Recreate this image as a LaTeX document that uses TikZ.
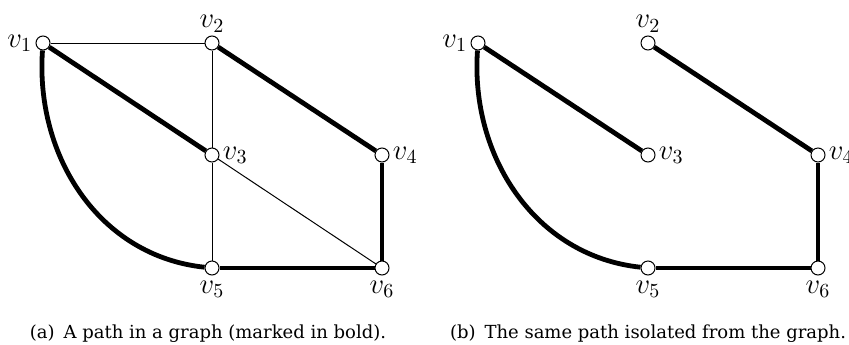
\documentclass[tikz,border=0pt]{standalone}
\usepackage{fontspec}
\newfontfamily\capfont{DejaVu Serif}
\usetikzlibrary{positioning}

\begin{document}
\begin{tikzpicture}[x=0.5pt,y=0.5pt,
  vertex/.style={draw,circle,fill=white,minimum size=7pt,inner sep=0pt,line width=0.5pt},
  vlabel/.style={font=\Large,inner sep=0.5pt,label distance=1pt},
  thinedge/.style={line width=0.5pt},
  boldedge/.style={line width=2.4pt},
  caption/.style={font=\capfont\fontsize{9}{11}\selectfont,inner sep=0pt}
]
  \useasboundingbox (0,0) rectangle (849,344);

  % (a) the whole graph
  \node[vertex,label={[vlabel]left:$v_1$}]  (a1) at (43,301) {};
  \node[vertex,label={[vlabel]above:$v_2$}] (a2) at (212,301) {};
  \node[vertex,label={[vlabel]right:$v_3$}] (a3) at (212,189) {};
  \node[vertex,label={[vlabel]right:$v_4$}] (a4) at (382,189) {};
  \node[vertex,label={[vlabel,label distance=2pt]below:$v_5$}] (a5) at (212,76) {};
  \node[vertex,label={[vlabel,label distance=2pt]below:$v_6$}] (a6) at (382,76) {};

  \path[thinedge]
    (a1) edge (a2)
    (a2) edge (a3)
    (a3) edge (a5)
    (a3) edge (a6);
  \path[boldedge]
    (a1) edge (a3)
    (a2) edge (a4)
    (a4) edge (a6)
    (a5) edge (a6)
    (a1) edge[out=-94,in=174] (a5);

  % (b) the path alone
  \node[vertex,label={[vlabel]left:$v_1$}]  (b1) at (478,301) {};
  \node[vertex,label={[vlabel]above:$v_2$}] (b2) at (648,301) {};
  \node[vertex,label={[vlabel]right:$v_3$}] (b3) at (648,189) {};
  \node[vertex,label={[vlabel]right:$v_4$}] (b4) at (818,189) {};
  \node[vertex,label={[vlabel,label distance=2pt]below:$v_5$}] (b5) at (648,76) {};
  \node[vertex,label={[vlabel,label distance=2pt]below:$v_6$}] (b6) at (818,76) {};

  \path[boldedge]
    (b1) edge (b3)
    (b2) edge (b4)
    (b4) edge (b6)
    (b5) edge (b6)
    (b1) edge[out=-94,in=174] (b5);

  \node[caption] (capa) at (208,10) {(a)\hspace{0.5em}A path in a graph (marked in bold).};
  \node[caption] (capb) at (648,10) {(b)\hspace{0.5em}The same path isolated from the graph.};
\end{tikzpicture}
\end{document}
